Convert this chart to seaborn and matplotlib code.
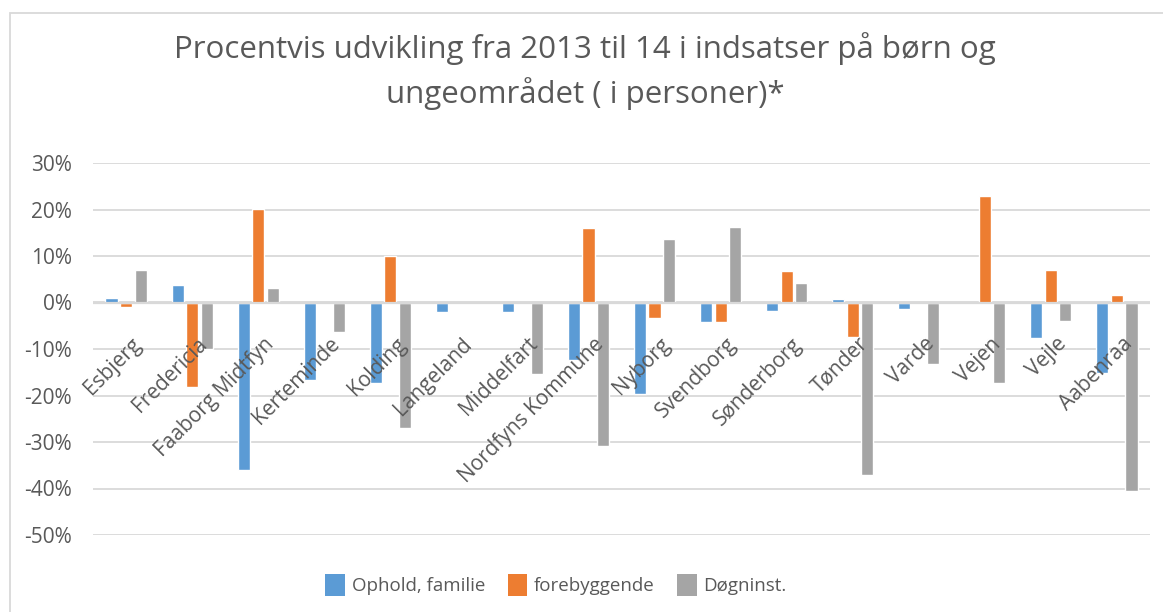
import matplotlib
matplotlib.use("Agg")
import matplotlib.pyplot as plt
import matplotlib.transforms as mtransforms
from matplotlib.patches import Rectangle, Patch
from matplotlib.ticker import FuncFormatter, MultipleLocator
import seaborn as sns
import pandas as pd

kommuner = ["Esbjerg", "Fredericia", "Faaborg Midtfyn", "Kerteminde", "Kolding",
            "Langeland", "Middelfart", "Nordfyns Kommune", "Nyborg", "Svendborg",
            "Sønderborg", "Tønder", "Varde", "Vejen", "Vejle", "Aabenraa"]
ophold = [0.010, 0.038, -0.361, -0.167, -0.174, -0.020, -0.020, -0.124, -0.196, -0.043,
          -0.018, 0.008, -0.015, 0.0, -0.077, -0.151]
forebyggende = [-0.009, -0.181, 0.201, 0.0, 0.101, 0.0, 0.0, 0.160, -0.033, -0.043,
                0.067, -0.074, 0.0, 0.228, 0.069, 0.017]
dogninst = [0.069, -0.100, 0.032, -0.064, -0.270, 0.0, -0.154, -0.309, 0.136, 0.162,
            0.043, -0.370, -0.133, -0.174, -0.040, -0.406]
series_names = ["Ophold, familie", "forebyggende", "Døgninst."]
colors = ["#5B9BD5", "#ED7D31", "#A5A5A5"]

rows = []
for name, vals in zip(series_names, [ophold, forebyggende, dogninst]):
    for k, v in zip(kommuner, vals):
        rows.append({"Kommune": k, "Serie": name, "Værdi": v})
df = pd.DataFrame(rows)

sns.set_theme(style="white")
plt.rcParams["font.family"] = ["Open Sans", "DejaVu Sans"]
text_color = "#595959"
grid_color = "#D9D9D9"

fig = plt.figure(figsize=(11.63, 6.12), dpi=100)
W, H = 1163, 612
ax = fig.add_axes([93 / W, 1 - 535 / H, (1150 - 93) / W, (535 - 163) / H])

sns.barplot(data=df, x="Kommune", y="Værdi", hue="Serie", order=kommuner,
            hue_order=series_names, palette=colors, width=0.66, gap=0.17,
            saturation=1, ax=ax, legend=False)

ax.set_ylim(-0.5, 0.3)
ax.set_xlim(-0.5, len(kommuner) - 0.5)
ax.yaxis.set_major_locator(MultipleLocator(0.1))
ax.yaxis.set_major_formatter(FuncFormatter(lambda v, p: f"{round(v * 100):d}%"))
ax.grid(axis="y", color=grid_color, linewidth=1.3, zorder=0)
ax.set_axisbelow(True)
for s in ax.spines.values():
    s.set_visible(False)
ax.axhline(0, color=grid_color, linewidth=1.6, zorder=1)
ax.set_xlabel("")
ax.set_ylabel("")
ax.set_xticks([])
ax.tick_params(axis="y", length=0, pad=15, labelsize=15, labelcolor=text_color)

offset = mtransforms.ScaledTranslation(5 / 100, -31 / 100, fig.dpi_scale_trans)
for i, k in enumerate(kommuner):
    ax.text(i, 0, k, rotation=45, ha="right", va="top", rotation_mode="anchor",
            fontsize=15, color=text_color, transform=ax.transData + offset,
            zorder=5)

fig.text(585 / W, 1 - 71 / H, "Procentvis udvikling fra 2013 til 14 i indsatser på børn og\nungeområdet ( i personer)*",
         ha="center", va="center", fontsize=22.5, color=text_color, linespacing=1.45)

handles = [Patch(facecolor=c, edgecolor="none") for c in colors]
fig.legend(handles, series_names, loc="center", bbox_to_anchor=(556 / W, 1 - 585 / H),
           ncol=3, frameon=False, fontsize=13.5, labelcolor=text_color,
           handlelength=1.05, handleheight=1.5, handletextpad=0.35, columnspacing=1.2)

fig.patches.append(Rectangle((10 / W, -0.05), 1.0, 1 - 13 / H + 0.05,
                             transform=fig.transFigure, fill=False,
                             edgecolor=grid_color, linewidth=1.3))

fig.savefig("out.png", dpi=100)
